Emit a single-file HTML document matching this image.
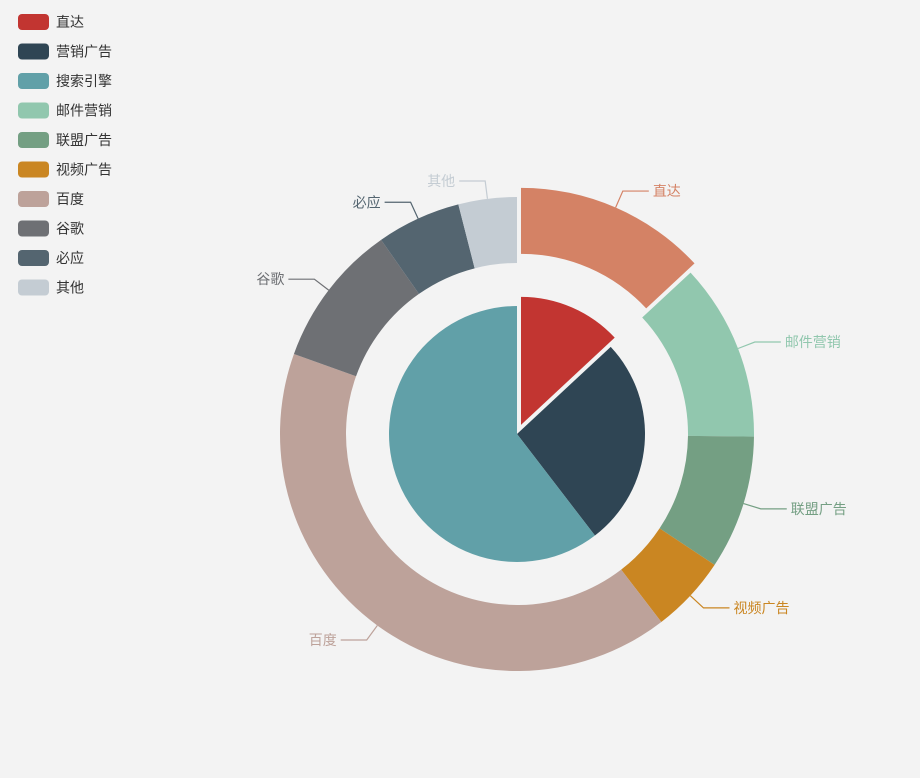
<!DOCTYPE html>
<html><head><meta charset="utf-8"><style>
html,body{margin:0;padding:0;background:#f3f3f3;}
svg{display:block;font-family:"Liberation Sans","Noto Sans CJK SC",sans-serif;}
</style></head><body>
<svg id="c" width="920" height="778"></svg>
<script>
const legendNames=['直达','营销广告','搜索引擎','邮件营销','联盟广告','视频广告','百度','谷歌','必应','其他'];
const legendColors=['#c23531','#2f4554','#61a0a8','#91c7ae','#749f83','#ca8622','#bda29a','#6e7074','#546570','#c4ccd3'];
const innerNames=['直达','营销广告','搜索引擎'];
const innerValues=[335,679,1548];
const innerColors=['#c23531','#2f4554','#61a0a8'];
const innerSelected=[true,false,false];
const outerNames=['直达','邮件营销','联盟广告','视频广告','百度','谷歌','必应','其他'];
const outerValues=[335,310,234,135,1048,251,147,102];
const outerColors=['#d48265','#91c7ae','#749f83','#ca8622','#bda29a','#6e7074','#546570','#c4ccd3'];
const outerSelected=[true,false,false,false,false,false,false,false];

const NS='http://www.w3.org/2000/svg';
const svg=document.getElementById('c');
const cx=517,cy=434,pieR=128,ringIn=171,ringOut=237,off=10;
function mk(t,a){const e=document.createElementNS(NS,t);for(const k in a)e.setAttribute(k,a[k]);return e;}
function pt(r,a){return [cx+r*Math.sin(a),cy-r*Math.cos(a)];}
function arcPath(r0,r1,a0,a1,dx,dy){
  const large=(a1-a0)>Math.PI?1:0;
  const p=(r,a)=>{const q=pt(r,a);return (q[0]+dx).toFixed(2)+','+(q[1]+dy).toFixed(2);};
  if(r0===0) return 'M'+(cx+dx)+','+(cy+dy)+' L'+p(r1,a0)+' A'+r1+','+r1+' 0 '+large+' 1 '+p(r1,a1)+' Z';
  return 'M'+p(r1,a0)+' A'+r1+','+r1+' 0 '+large+' 1 '+p(r1,a1)+' L'+p(r0,a1)+' A'+r0+','+r0+' 0 '+large+' 0 '+p(r0,a0)+' Z';
}
legendNames.forEach((n,i)=>{
  const g=mk('g',{});
  
  
  const y=14+i*29.5;
  g.appendChild(mk('rect',{x:18,y:y,width:31,height:16,rx:4,fill:legendColors[i]}));
  const t=mk('text',{x:56,y:y+13,'font-size':14,fill:'#333'});t.textContent=n;g.appendChild(t);
  svg.appendChild(g);
});
function drawPie(names,vals,cols,sel,r0,r1,labels,prefix){
  const tot=vals.reduce((a,b)=>a+b,0);let a=0;
  vals.forEach((v,i)=>{
    const a0=a,a1=a+v/tot*2*Math.PI;a=a1;
    const m=(a0+a1)/2;
    const dx=sel[i]?off*Math.sin(m):0,dy=sel[i]?-off*Math.cos(m):0;
    const p=mk('path',{d:arcPath(r0,r1,a0,a1,dx,dy),fill:cols[i]});
    
    
    svg.appendChild(p);
    if(labels){
      const s=pt(r1,m),e=pt(r1+18,m);
      const right=Math.sin(m)>=0;
      const ex=e[0]+(right?26:-26);
      const l=mk('polyline',{points:(s[0]+dx)+','+(s[1]+dy)+' '+(e[0]+dx)+','+(e[1]+dy)+' '+(ex+dx)+','+(e[1]+dy),fill:'none',stroke:cols[i],'stroke-width':1.2});
      
      
      svg.appendChild(l);
      const t=mk('text',{x:ex+dx+(right?4:-4),y:e[1]+dy+5,'font-size':14,fill:cols[i],'text-anchor':right?'start':'end'});
      t.textContent=names[i];
      
      
      svg.appendChild(t);
    }
  });
}
drawPie(innerNames,innerValues,innerColors,innerSelected,0,pieR,false,'inner');
drawPie(outerNames,outerValues,outerColors,outerSelected,ringIn,ringOut,true,'outer');
</script>
</body></html>
